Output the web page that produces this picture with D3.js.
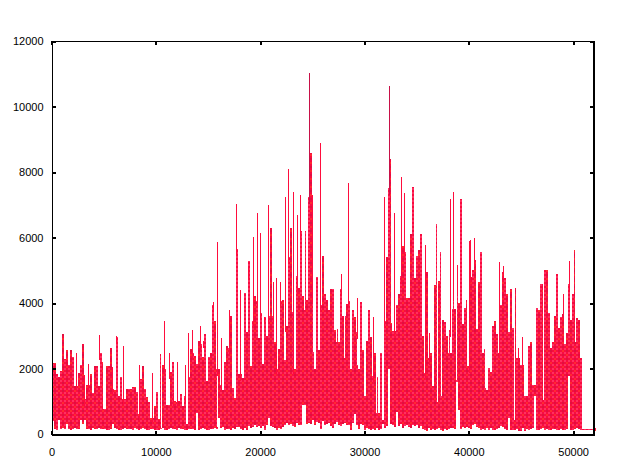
<!DOCTYPE html>
<html><head><meta charset="utf-8">
<script src="https://cdn.jsdelivr.net/npm/d3@7"></script>
<style>html,body{margin:0;background:#fff}svg{display:block}text{font-family:"Liberation Sans",sans-serif;font-size:11px}</style>
</head><body><div id="c"></div>
<script>
const binSize = 192;
const xTicks = [0,10000,20000,30000,40000,50000];
const yTicks = [0,2000,4000,6000,8000,10000,12000];
const highs = [
2180,2180,1820,1740,1920,3060,2300,2580,2120,2580,2340,1470,1470,1870,2100,2760,1070,1500,1500,1830,
1250,2080,2080,1480,2470,2200,750,2080,2080,2640,1370,1340,2960,1160,1740,1060,1060,1370,1360,1360,
1440,1440,1280,600,1670,2070,1370,1140,970,500,500,870,1280,470,2440,2100,1980,880,880,1890,
2200,1000,980,1000,1220,850,1160,300,1750,2590,2470,2380,2140,2840,2750,2350,3050,1620,2350,2470,
3940,3450,1980,1980,1500,1340,2200,2690,2620,3600,1400,1100,5640,1830,1830,1700,4300,3110,5280,2070,
3450,4210,4060,2930,3690,2140,3570,2990,3600,6280,3600,2820,1980,2590,4060,4090,2260,3300,5400,6280,
4820,2000,4820,4450,6190,4210,6190,4090,7230,8570,4180,2000,4790,2560,3940,5430,4270,4090,3780,4440,
4440,3170,3200,2800,4420,3600,3600,3970,4060,2000,3780,3570,3110,2000,4030,2560,1160,2840,3780,2960,
1770,2460,1740,630,2460,430,3450,5400,7500,8390,3140,3140,3940,4270,4820,5740,5550,4150,4150,6100,
7540,4760,5430,5610,6120,3000,1860,4940,2320,2460,1460,4550,6410,4670,5550,3480,3420,2990,3170,2460,
4270,3820,4450,4000,7170,3360,3840,4090,2070,4800,5000,5310,3220,4640,5550,2460,2610,1340,2010,1890,
3290,3450,3050,2480,3940,4940,4760,4290,3120,4420,3230,4450,2320,2320,2100,2100,1160,1160,2680,2810,
1490,1490,3840,3780,4580,4580,5000,5000,3690,2620,2810,3600,4880,3230,3570,3660,2750,3080,4580,3480,
4270,5610,3540,3480,2320,160,160,160,160,160,160,190];
const lows = [
400,150,130,420,150,170,140,300,150,120,140,180,140,150,420,300,420,150,140,120,
170,150,140,180,160,140,150,110,130,140,300,170,140,120,130,150,180,140,140,160,
130,170,140,120,150,170,160,130,120,150,140,130,120,110,150,170,130,120,150,180,
160,140,120,170,140,150,130,110,160,140,150,130,630,120,150,170,140,130,110,160,
150,180,140,500,170,200,130,160,150,110,170,140,200,210,150,110,180,130,240,170,
220,280,200,230,170,250,120,260,500,240,210,170,130,190,140,220,280,340,260,300,
250,200,330,260,290,900,900,320,350,300,420,260,360,330,150,390,280,310,340,250,
170,300,360,280,240,320,340,260,290,130,330,600,280,150,310,260,110,170,140,110,
150,130,170,120,140,300,180,240,2000,310,260,210,680,240,300,190,240,290,210,170,
260,230,280,190,250,150,120,100,180,130,160,110,150,170,120,100,160,130,150,170,
180,160,1600,720,160,210,170,220,170,150,260,320,210,170,120,140,120,170,110,180,
130,120,150,190,240,220,160,120,480,110,130,120,150,100,90,170,90,160,120,150,
180,1150,130,110,140,170,120,150,130,110,160,140,120,130,150,130,120,160,1770,130,
120,140,180,150,120,110,110,110,110,110,110,80];
const spikeX = [2430,3160,3520,4630,5850,6230,6900,8440,9690,10870,11350,11730,12110,12850,13170,13550,14320,14610,15540,15920,16300,17070,17740,18130,18890,19370,19760,20070,20460,20840,21260,21610,21990,22470,22760,23240,23620,23910,24740,25060,25830,27810,28510,29350,30910,31960,32410,32830,33590,33880,35480,35870,36280,38200,38580,38870,40020,40210,40570,42900,43280,44720,45170,45940,49040,49680];
const spikeY = [2460,1800,2130,3030,2060,2990,2680,2100,1850,3450,2460,1250,2200,2100,3070,3190,3300,2620,4030,5860,2930,3780,7020,4390,4700,6010,6740,6130,3580,6990,4640,4760,4640,7230,8090,7380,6680,7290,11020,7290,8880,4880,7660,4150,3560,7230,10630,6740,7840,7350,6000,5770,3080,7170,7380,5160,5890,5920,6000,5250,5130,2620,2960,2140,4270,5280];
const slitX = [5020,10520,15890,20210,20360,23140,24260,25150,25320,27330,28130,29320,31170,32630,36990,37430,38100,38480,38810,39870,40730,41620,44340,47140,50250];
const slitY = [750,170,220,2150,2150,3710,3780,2510,2510,2810,2310,2100,630,3380,990,1170,2460,3830,1650,2070,3200,1390,430,1040,2800];

const W=630,H=465;
const x=d3.scaleLinear().domain([0,52000]).range([51.5,594]);
const y=d3.scaleLinear().domain([0,12000]).range([434,41]);
const svg=d3.select("#c").append("svg").attr("width",W).attr("height",H);
const pat=svg.append("defs").append("pattern").attr("id","dither").attr("width",8).attr("height",8).attr("patternUnits","userSpaceOnUse");
pat.append("rect").attr("width",8).attr("height",8).attr("fill","#f80c40");
[[0,0,"#ff3060"],[4,0,"#ff3060"],[0,4,"#ff3060"],[4,4,"#ff3060"],[2,2,"#e0103f"],[6,6,"#e0103f"],[2,6,"#ff2a30"],[6,2,"#ff2a30"]].forEach(d=>
  pat.append("rect").attr("x",d[0]).attr("y",d[1]).attr("width",2).attr("height",2).attr("fill",d[2]));
const plot=svg.append("g");
plot.selectAll("rect.bin").data(highs).join("rect").attr("class","bin")
  .attr("x",(d,i)=>x(i*binSize)).attr("width",(d,i)=>x((i+1)*binSize)-x(i*binSize)+0.1)
  .attr("y",d=>y(d)).attr("height",(d,i)=>Math.max(1,y(lows[i])-y(d)))
  .attr("fill","url(#dither)").attr("shape-rendering","crispEdges");
plot.selectAll("line.slit").data(slitX).join("line").attr("class","slit")
  .attr("x1",d=>x(d)).attr("x2",d=>x(d)).attr("y1",y(12000)).attr("y2",(d,i)=>y(slitY[i]))
  .attr("stroke","#fff").attr("stroke-width",1).attr("shape-rendering","crispEdges");
plot.selectAll("line.spike").data(spikeX).join("line").attr("class","spike")
  .attr("x1",d=>x(d)).attr("x2",d=>x(d))
  .attr("y1",d=>y(Math.max(highs[Math.floor(d/binSize)]-200,200))).attr("y2",(d,i)=>y(spikeY[i]))
  .attr("stroke",(d,i)=>spikeY[i]>9000?"#c81048":"#ff0d3d").attr("stroke-width",1).attr("shape-rendering","crispEdges");

const bottom=d3.axisBottom(x).tickValues(xTicks).tickFormat(d3.format("d")).tickSize(-4).tickPadding(14).tickSizeOuter(0);
const left=d3.axisLeft(y).tickValues(yTicks).tickFormat(d3.format("d")).tickSize(-4).tickPadding(8).tickSizeOuter(0);
const gb=svg.append("g").attr("transform","translate(0,434.5)").call(bottom);
const gl=svg.append("g").attr("transform","translate(51.5,0)").call(left);
const gt=svg.append("g").attr("transform","translate(0,40.5)").call(d3.axisTop(x).tickValues(xTicks).tickFormat("").tickSize(-4).tickSizeOuter(0));
const gr=svg.append("g").attr("transform","translate(593.5,0)").call(d3.axisRight(y).tickValues(yTicks).tickFormat("").tickSize(-4).tickSizeOuter(0));
[gb,gl,gt,gr].forEach(g=>{g.selectAll("path").attr("stroke","#000").attr("shape-rendering","crispEdges");g.selectAll("line").attr("stroke","#000").attr("stroke-width",2).attr("shape-rendering","crispEdges");});
gb.select("path").attr("stroke-width",2);gr.select("path").attr("stroke-width",2);
svg.selectAll("text").attr("fill","#000").attr("font-size",11);
</script></body></html>
